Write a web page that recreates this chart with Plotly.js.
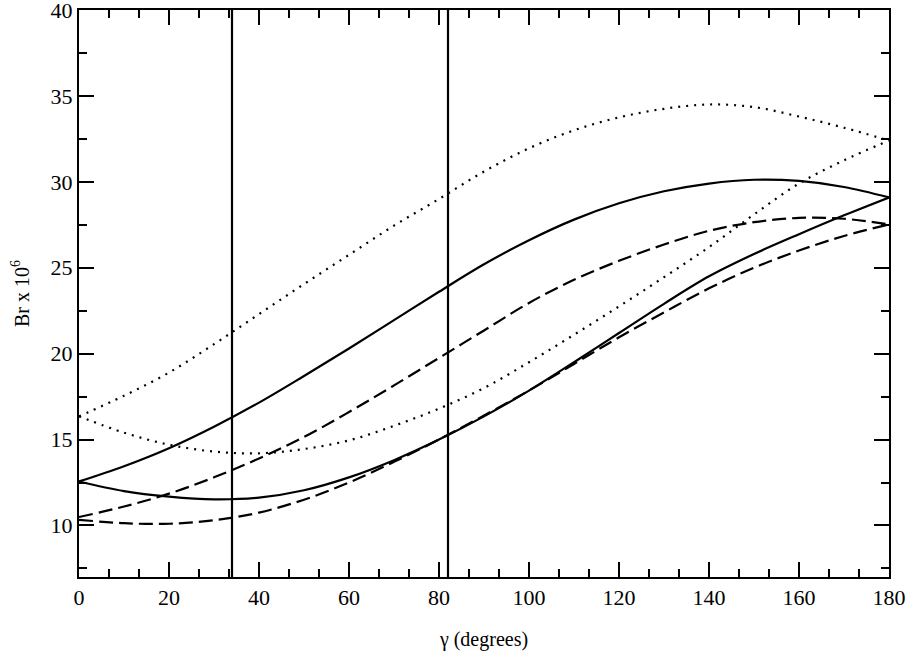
<!DOCTYPE html>
<html>
<head>
<meta charset="utf-8">
<script src="https://cdn.plot.ly/plotly-3.0.1.min.js"></script>
</head>
<body style="margin:0">
<div id="myDiv"></div>
<script>
// gamma in degrees
var gamma = [0, 10, 20, 30, 40, 50, 60, 70, 80, 90, 100, 110, 120, 130, 140, 150, 160, 170, 180];

// dotted pair
var dotUpper = [16.35, 17.55, 18.9, 20.55, 22.3, 24.05, 25.75, 27.45, 29.0, 30.6, 31.95, 33.0, 33.75, 34.25, 34.5, 34.35, 33.8, 33.15, 32.4];
var dotLower = [16.35, 15.4, 14.7, 14.3, 14.2, 14.45, 14.95, 15.8, 16.8, 18.0, 19.5, 21.1, 22.75, 24.45, 26.2, 28.1, 29.9, 31.25, 32.4];

// solid pair
var solidUpper = [12.56, 13.45, 14.5, 15.75, 17.15, 18.7, 20.3, 21.95, 23.6, 25.2, 26.6, 27.8, 28.75, 29.45, 29.9, 30.12, 30.05, 29.7, 29.09];
var solidLower = [12.56, 12.0, 11.68, 11.52, 11.62, 12.05, 12.8, 13.8, 15.0, 16.35, 17.85, 19.5, 21.2, 22.9, 24.5, 25.8, 26.95, 28.05, 29.09];

// dashed pair
var dashUpper = [10.49, 11.1, 11.85, 12.8, 13.9, 15.15, 16.6, 18.15, 19.75, 21.35, 22.95, 24.3, 25.4, 26.35, 27.15, 27.65, 27.9, 27.85, 27.52];
var dashLower = [10.33, 10.13, 10.1, 10.3, 10.75, 11.5, 12.5, 13.7, 15.0, 16.4, 17.85, 19.4, 20.95, 22.4, 23.8, 25.0, 26.0, 26.85, 27.52];

// vertical markers
var markerGamma = [34, 82];
var yRange = [7, 40];

// tick labels
var xTicks = [0, 20, 40, 60, 80, 100, 120, 140, 160, 180];
var yTicks = [10, 15, 20, 25, 30, 35, 40];

var fam = 'Liberation Serif';

function curve(y, dash) {
  return {
    x: gamma, y: y, type: 'scatter', mode: 'lines',
    line: { color: '#000', width: 2.2, dash: dash, shape: 'spline', smoothing: 1 },
    hoverinfo: 'skip', showlegend: false
  };
}

var data = [
  curve(dotUpper, '2px,6px'),
  curve(dotLower, '2px,6px'),
  curve(solidUpper, 'solid'),
  curve(solidLower, 'solid'),
  curve(dashUpper, '14px,6px'),
  curve(dashLower, '14px,6px')
];

for (var i = 0; i < markerGamma.length; i++) {
  data.push({
    x: [markerGamma[i], markerGamma[i]], y: yRange, type: 'scatter', mode: 'lines',
    line: { color: '#000', width: 2.2 }, hoverinfo: 'skip', showlegend: false
  });
}

var layout = {
  width: 908, height: 654,
  margin: { l: 79, r: 19, t: 10, b: 77 },
  paper_bgcolor: '#fff', plot_bgcolor: '#fff',
  font: { family: fam, size: 20, color: '#000' },
  showlegend: false,
  xaxis: {
    range: [0, 180], tickmode: 'array', tickvals: xTicks,
    ticks: 'inside', ticklen: 15, tickwidth: 2, tickcolor: '#000',
    minor: { dtick: 20 / 3, tick0: 0, ticks: 'inside', ticklen: 8, tickwidth: 2, tickcolor: '#000' },
    showline: true, linewidth: 2, linecolor: '#000', mirror: 'ticks',
    showgrid: false, zeroline: false,
    tickfont: { family: fam, size: 22, color: '#000' },
    title: { text: 'γ (degrees)', font: { family: fam, size: 20, color: '#000' }, standoff: 23 }
  },
  yaxis: {
    range: yRange, tickmode: 'array', tickvals: yTicks,
    ticks: 'inside', ticklen: 15, tickwidth: 2, tickcolor: '#000',
    minor: { dtick: 2.5, tick0: 0, ticks: 'inside', ticklen: 8, tickwidth: 2, tickcolor: '#000' },
    showline: true, linewidth: 2, linecolor: '#000', mirror: 'ticks',
    showgrid: false, zeroline: false, ticklabeloverflow: 'allow',
    tickfont: { family: fam, size: 22, color: '#000' },
    title: { text: 'Br x 10<sup>6</sup>', font: { family: fam, size: 20, color: '#000' }, standoff: 16 }
  }
};

Plotly.newPlot('myDiv', data, layout, { displayModeBar: false, staticPlot: true });
</script>
</body>
</html>
